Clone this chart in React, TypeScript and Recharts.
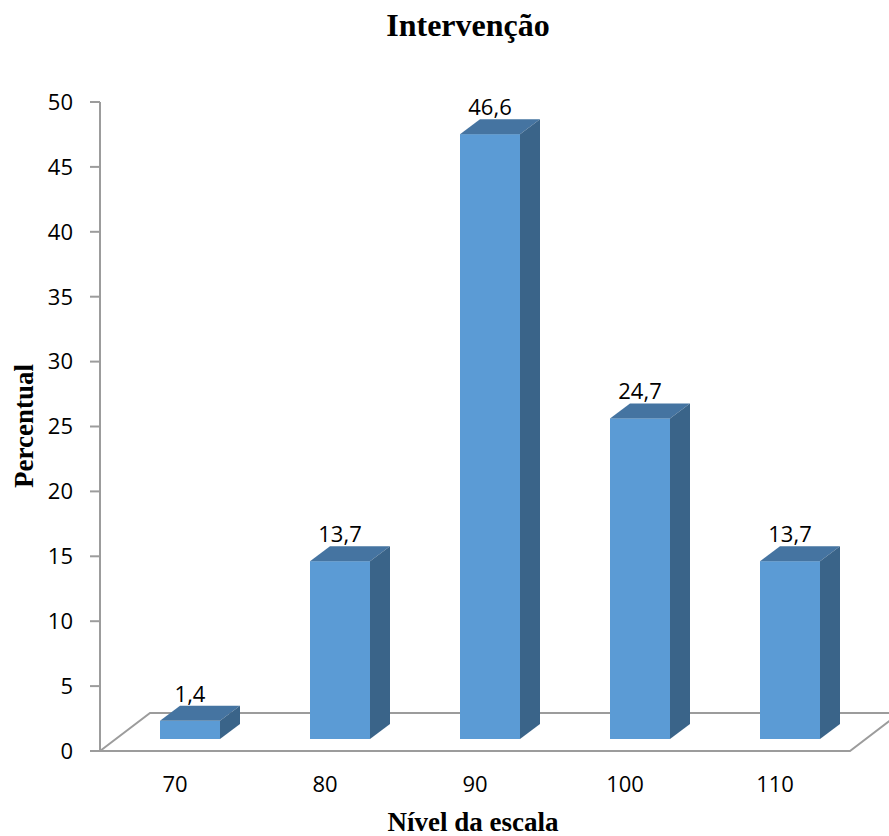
import React from 'react'
import { BarChart, Bar, XAxis, YAxis, Customized } from 'recharts'

const categories = ['70', '80', '90', '100', '110']
const values = [1.4, 13.7, 46.6, 24.7, 13.7]
const valueLabels = ['1,4', '13,7', '46,6', '24,7', '13,7']
const yTicks = [0, 5, 10, 15, 20, 25, 30, 35, 40, 45, 50]

const data = categories.map((c, i) => ({ cat: c, value: values[i], label: valueLabels[i] }))

const W = 889
const H = 836
const margin = { top: 102, right: 39, left: 0, bottom: 25 }
const yAxisWidth = 100
const xAxisHeight = 60

const plotLeft = margin.left + yAxisWidth
const plotRight = W - margin.right
const plotBottom = H - margin.bottom - xAxisHeight

// 3d look
const DEPTH_X = 20
const DEPTH_Y = 15
const SHIFT_X = 15
const SHIFT_Y = 12
const FLOOR_X = 50
const FLOOR_Y = 38

const FRONT = '#5B9BD5'
const TOP = '#4574A1'
const SIDE = '#3A6489'
const GRID = '#9c9c9c'
const labelFont = '"Open Sans", sans-serif'

function Bar3D(props: any) {
  const { x, y, width, height, payload } = props
  const fx = x + SHIFT_X
  const fy = y - SHIFT_Y
  const fb = fy + height
  return (
    <g>
      <rect x={fx} y={fy} width={width} height={height} fill={FRONT} />
      <polygon
        points={`${fx},${fy} ${fx + DEPTH_X},${fy - DEPTH_Y} ${fx + width + DEPTH_X},${fy - DEPTH_Y} ${fx + width},${fy}`}
        fill={TOP}
      />
      <polygon
        points={`${fx + width},${fy} ${fx + width + DEPTH_X},${fy - DEPTH_Y} ${fx + width + DEPTH_X},${fb - DEPTH_Y} ${fx + width},${fb}`}
        fill={SIDE}
      />
      <text
        x={fx + width / 2}
        y={fy - DEPTH_Y - 4}
        textAnchor="middle"
        fontSize={22}
        fontFamily={labelFont}
        fill="#000"
      >
        {payload.label}
      </text>
    </g>
  )
}

function XTick(props: any) {
  const { x, payload } = props
  return (
    <text x={x} y={plotBottom + 41} textAnchor="middle" fontSize={22} fontFamily={labelFont} fill="#000">
      {payload.value}
    </text>
  )
}

function Floor() {
  const fy = plotBottom
  return (
    <g>
      <polyline
        points={`${plotLeft},${fy} ${plotLeft + FLOOR_X},${fy - FLOOR_Y} ${plotRight + FLOOR_X},${fy - FLOOR_Y} ${plotRight},${fy} ${plotLeft},${fy}`}
        fill="none"
        stroke={GRID}
        strokeWidth={2}
      />
    </g>
  )
}

function Titles() {
  return (
    <g fontFamily='"Liberation Serif", "Times New Roman", serif' fontWeight="bold" fill="#000">
      <text x={468} y={36} textAnchor="middle" fontSize={32}>
        Intervenção
      </text>
      <text x={473} y={831} textAnchor="middle" fontSize={27}>
        Nível da escala
      </text>
      <text
        x={0}
        y={0}
        textAnchor="middle"
        fontSize={27}
        transform={`translate(33, 426) rotate(-90)`}
      >
        Percentual
      </text>
    </g>
  )
}

export default function App() {
  return (
    <div style={{ width: W, height: H, background: '#fff' }}>
      <style>{'body{margin:0}'}</style>
      <BarChart width={W} height={H} data={data} margin={margin}>
        <Customized component={Floor} />
        <XAxis
          dataKey="cat"
          height={xAxisHeight}
          axisLine={false}
          tickLine={false}
          tick={<XTick />}
        />
        <YAxis
          width={yAxisWidth}
          domain={[0, 50]}
          ticks={yTicks}
          interval={0}
          axisLine={{ stroke: GRID, strokeWidth: 2 }}
          tickLine={{ stroke: GRID, strokeWidth: 2 }}
          tickSize={10}
          tickMargin={17}
          tick={{ fill: '#000', fontSize: 22, fontFamily: labelFont }}
        />
        <Bar dataKey="value" barSize={60} shape={<Bar3D />} isAnimationActive={false} />
        <Customized component={Titles} />
      </BarChart>
    </div>
  )
}
